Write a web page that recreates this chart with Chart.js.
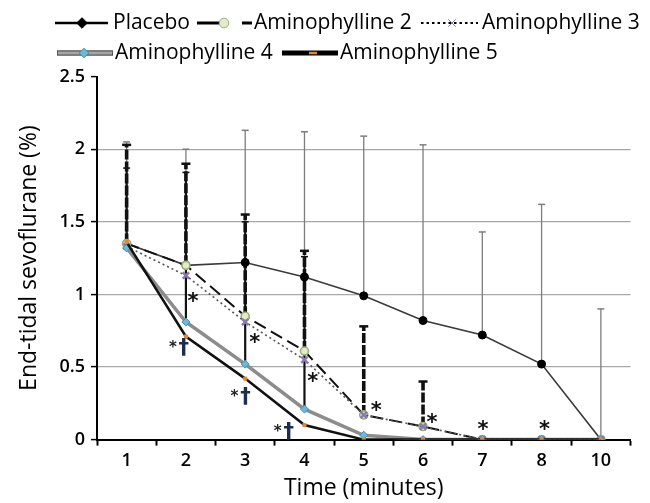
<!DOCTYPE html>
<html><head><meta charset="utf-8">
<script src="https://cdn.jsdelivr.net/npm/chart.js@4"></script>
<style>html,body{margin:0;padding:0;background:#fff}canvas{display:block}</style>
</head><body>
<canvas id="c" width="650" height="503"></canvas>
<script>
// ---- data ----
const timeLabels = ['1','2','3','4','5','6','7','8','10'];
const seriesNames = ['Placebo','Aminophylline 2','Aminophylline 3','Aminophylline 4','Aminophylline 5'];
const placebo = [1.35,1.20,1.22,1.12,0.99,0.82,0.72,0.52,0];
const amino2  = [1.35,1.20,0.85,0.61,0.17,0.09,0,0,0];
const amino3  = [1.33,1.13,0.81,0.55,0.17,0.09,0,0,0];
const amino4  = [1.32,0.81,0.52,0.21,0.03,0,0,0,0];
const amino5  = [1.36,0.71,0.42,0.10,0,0,0,0,0];
const placeboUpper = [2.05,2.00,2.13,2.12,2.09,2.03,1.43,1.62,0.90];
const amino2Upper  = [2.03,1.90,1.55,1.30,0.78,0.40,null,null,null];
const amino4Upper  = [1.87,1.84,1.50,1.26,null,null,null,null,null];
const yTicks = [0,0.5,1,1.5,2,2.5];
// significance marks (category index, value)
const starIdx = [1.12,2.16,3.14,4.21,5.15,6.01,7.05];
const starVal = [0.98,0.70,0.43,0.23,0.15,0.10,0.10];
const daggerIdx = [0.88,1.92,2.65];
const daggerVal = [0.64,0.30,0.06];

const FONT = '"Open Sans", "Liberation Sans", sans-serif';

const styles = [
  {color:'#3a3a3a', width:1.6, dash:[], ps:'circle', r:4, pf:'#000', pb:'#000', pbw:1, order:5},
  {color:'#111', width:2, dash:[13,6], ps:'circle', r:4, pf:'#e3eacd', pb:'#9aae72', pbw:1.6, order:4},
  {color:'#555', width:1.6, dash:[2,3], ps:'crossRot', r:4.5, pf:'#8a78b0', pb:'#8a78b0', pbw:2.4, order:3},
  {color:'#8c8c8c', width:3.5, dash:[], ps:'rectRot', r:4, pf:'#6db8d6', pb:'#3f8fb3', pbw:1, order:2},
  {color:'#111', width:2.5, dash:[], ps:'rect', r:2.2, pf:'#e8862a', pb:'#e8862a', pbw:1, order:1}
];
const seriesData = [placebo, amino2, amino3, amino4, amino5];

const datasets = seriesData.map((d,i)=>({
  label: seriesNames[i], data: d, order: styles[i].order,
  borderColor: styles[i].color, borderWidth: styles[i].width, borderDash: styles[i].dash,
  pointStyle: styles[i].ps, pointRadius: styles[i].r,
  pointBackgroundColor: styles[i].pf, pointBorderColor: styles[i].pb, pointBorderWidth: styles[i].pbw,
  tension: 0, fill: false
}));

const errPlugin = {
  id:'errbars',
  beforeDatasetsDraw(chart){
    const {ctx, scales:{x,y}} = chart;
    const specs = [
      {vals: placebo, tops: placeboUpper, color:'#7d7d7d', width:1.3, dash:[], cap:7},
      {vals: amino4, tops: amino4Upper, color:'#111', width:2.2, dash:[], cap:7},
      {vals: amino2, tops: amino2Upper, color:'#111', width:3.6, dash:[10,2], cap:9}
    ];
    ctx.save();
    specs.forEach(s=>{
      s.tops.forEach((t,i)=>{
        if (t===null) return;
        const px = x.getPixelForValue(i);
        const y0 = y.getPixelForValue(s.vals[i]);
        const y1 = y.getPixelForValue(t);
        ctx.strokeStyle = s.color; ctx.lineWidth = s.width; ctx.setLineDash(s.dash);
        ctx.beginPath(); ctx.moveTo(px,y0); ctx.lineTo(px,y1); ctx.stroke();
        ctx.setLineDash([]); ctx.lineWidth = Math.max(1.5, s.width*0.7);
        ctx.beginPath(); ctx.moveTo(px-s.cap/2,y1); ctx.lineTo(px+s.cap/2,y1); ctx.stroke();
      });
    });
    ctx.restore();
  }
};

function centeredText(ctx, txt, cx, cy){
  const m = ctx.measureText(txt);
  ctx.fillText(txt, cx - m.width/2, cy + (m.actualBoundingBoxAscent - m.actualBoundingBoxDescent)/2);
}

const notePlugin = {
  id:'notes',
  afterDatasetsDraw(chart){
    const {ctx, scales:{x,y}} = chart;
    ctx.save();
    ctx.textBaseline = 'alphabetic';
    ctx.fillStyle = '#111';
    ctx.font = 'bold 21px "DejaVu Sans"';
    starIdx.forEach((ix,i)=>{
      centeredText(ctx, '*', x.getPixelForValue(ix), y.getPixelForValue(starVal[i]));
    });
    daggerIdx.forEach((ix,i)=>{
      const cx = x.getPixelForValue(ix), cy = y.getPixelForValue(daggerVal[i]);
      ctx.fillStyle = '#222';
      ctx.font = 'bold 15px "DejaVu Sans"';
      centeredText(ctx, '*', cx-6, cy-3);
      ctx.fillStyle = '#1d2d4d';
      ctx.font = 'bold 21px "DejaVu Sans"';
      centeredText(ctx, '\u2020', cx+5, cy);
    });
    ctx.restore();
  }
};

function sampleMarker(ctx, st, x0, y0){
  ctx.save();
  ctx.setLineDash([]);
  ctx.fillStyle = st.pf; ctx.strokeStyle = st.pb;
  Chart.helpers.drawPoint(ctx, {pointStyle: st.ps, radius: st.r+0.8, rotation:0, borderWidth: st.pbw}, x0, y0);
  ctx.restore();
}
function seg(ctx, x0, x1, y0, color, w, dash){
  ctx.save(); ctx.strokeStyle=color; ctx.lineWidth=w; ctx.setLineDash(dash||[]);
  ctx.beginPath(); ctx.moveTo(x0,y0); ctx.lineTo(x1,y0); ctx.stroke(); ctx.restore();
}

const legendPlugin = {
  id:'legendRows',
  afterDraw(chart){
    const ctx = chart.ctx;
    ctx.save();
    ctx.font = '21px ' + FONT;
    ctx.fillStyle = '#000';
    ctx.textBaseline = 'middle';
    const r1 = 23, r2 = 53;
    // Placebo
    seg(ctx, 55, 108, r1, '#000', 2.5);
    sampleMarker(ctx, {ps:'rectRot', r:4.5, pf:'#000', pb:'#000', pbw:1}, 82, r1);
    ctx.fillText(seriesNames[0], 113, r1);
    // Aminophylline 2
    seg(ctx, 197, 220, r1, '#000', 3);
    sampleMarker(ctx, styles[1], 224, r1);
    seg(ctx, 242, 252, r1, '#000', 3);
    ctx.fillText(seriesNames[1], 254, r1);
    // Aminophylline 3
    seg(ctx, 421, 478, r1, '#000', 2.2, [2.5,3]);
    sampleMarker(ctx, styles[2], 452, r1);
    ctx.fillText(seriesNames[2], 482, r1);
    // Aminophylline 4
    seg(ctx, 57, 113, r2, '#555', 5.5);
    seg(ctx, 58, 112, r2, '#a6a6a6', 3);
    sampleMarker(ctx, styles[3], 84, r2);
    ctx.fillStyle = '#000';
    ctx.fillText(seriesNames[3], 115, r2);
    // Aminophylline 5
    seg(ctx, 282, 338, r2, '#000', 5);
    seg(ctx, 309, 317, r2, '#e8862a', 2.5);
    ctx.fillStyle = '#000';
    ctx.fillText(seriesNames[4], 340, r2);
    ctx.restore();
  }
};

new Chart(document.getElementById('c'), {
  type:'line',
  data:{ labels: timeLabels, datasets },
  plugins:[errPlugin, notePlugin, legendPlugin],
  options:{
    responsive:false, animation:false,
    layout:{ padding:{ top:76.6, left:0, right:19.5, bottom:1 } },
    plugins:{ legend:{display:false}, tooltip:{enabled:false} },
    scales:{
      x:{
        offset:true,
        grid:{ offset:true, drawOnChartArea:false, drawTicks:true, tickLength:6, tickColor:'#000', tickWidth:2 },
        border:{ display:true, color:'#000', width:2 },
        ticks:{ color:'#000', font:{ family:FONT, size:18, weight:'600' }, padding:4, maxRotation:0 },
        title:{ display:true, text:'Time (minutes)', color:'#000', font:{ family:FONT, size:23 }, padding:{top:0,bottom:0} },
        afterFit(s){ s.height = 62.4; }
      },
      y:{
        min:0, max:2.5,
        afterBuildTicks(s){ s.ticks = yTicks.map(v=>({value:v})); },
        grid:{ color:(c)=> (c.tick && (c.tick.value===2.5 || c.tick.value===0)) ? 'rgba(0,0,0,0)' : '#a8a8a8', lineWidth:1.2, tickLength:6, tickColor:'#000', tickWidth:1.5 },
        border:{ display:true, color:'#000', width:2 },
        ticks:{ color:'#000', font:{ family:FONT, size:18, weight:'600' }, padding:6, callback:(v)=>String(v) },
        title:{ display:true, text:'End-tidal sevoflurane (%)', color:'#000', font:{ family:FONT, size:23 }, padding:{top:16,bottom:0} },
        afterFit(s){ s.width = 97; }
      }
    }
  }
});
</script>
</body></html>
